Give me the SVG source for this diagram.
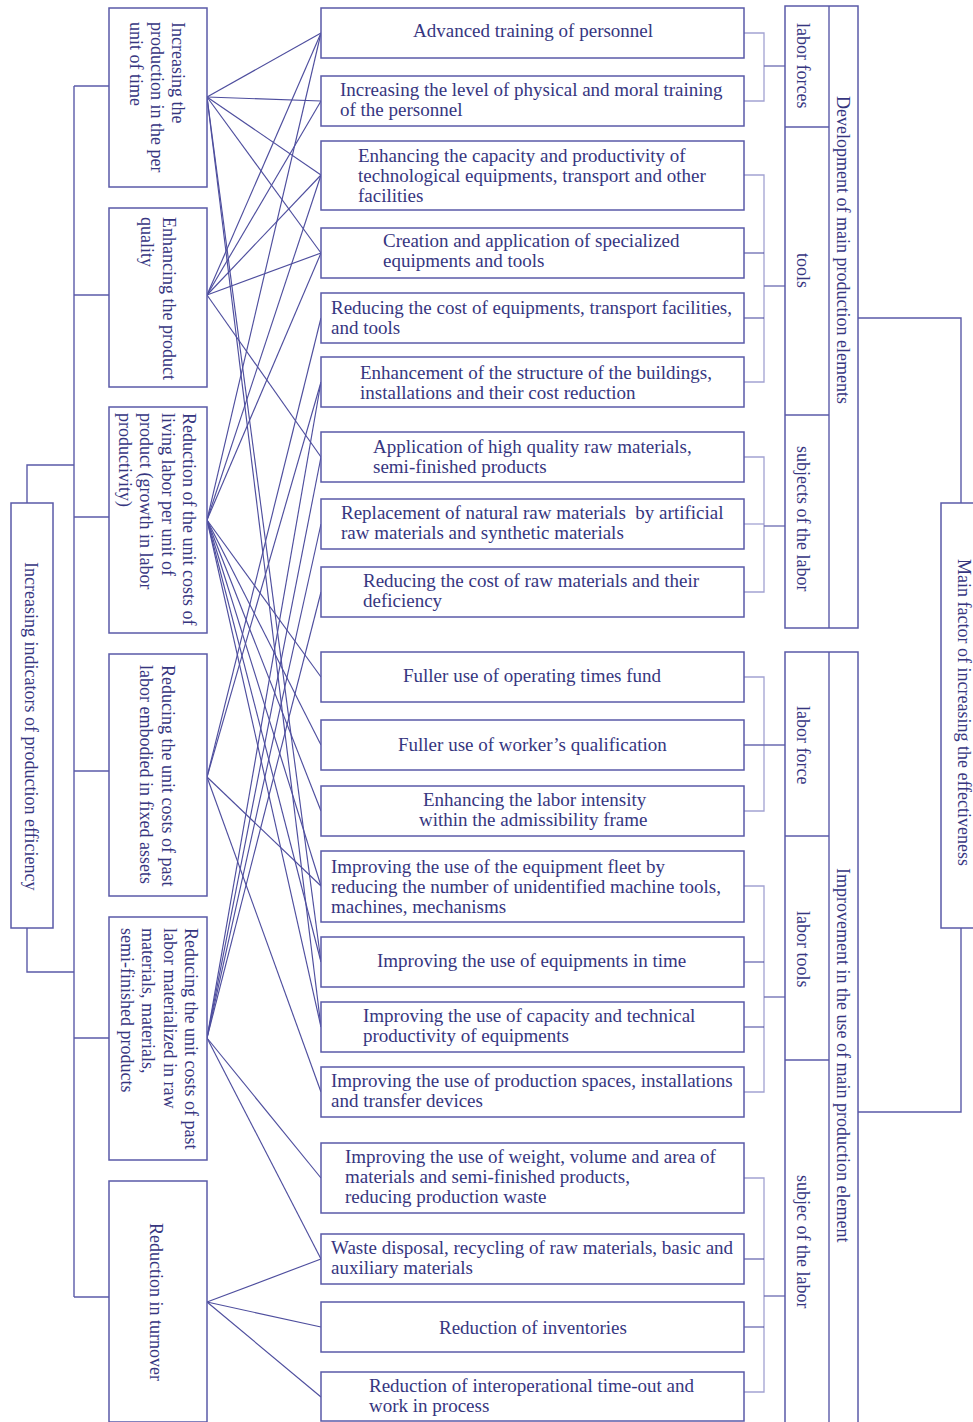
<svg xmlns="http://www.w3.org/2000/svg" width="973" height="1422" viewBox="0 0 973 1422">
<style>
  .bx{fill:#fff;stroke:#5a5aa8;stroke-width:1.5}
  .ln{fill:none;stroke:#5a5aa8;stroke-width:1.4}
  .lk{fill:none;stroke:#4e4e9e;stroke-width:1.15}
  .br{fill:none;stroke:#a2a2d2;stroke-width:1.3}
  .bd{fill:none;stroke:#6a6ab0;stroke-width:1.3}
  text{font-family:"Liberation Serif","Times New Roman",serif;fill:#36367f}
  .h{font-size:19px;white-space:pre}
  .v{font-size:18px}
</style>

<!-- left hierarchy spine -->
<g id="left-spine">
  <polyline class="ln" points="27,503 27,465 74,465"/>
  <polyline class="ln" points="27,928 27,972 74,972"/>
  <line class="ln" x1="74" y1="86" x2="74" y2="1297"/>
  <line class="ln" x1="74" y1="86" x2="109" y2="86"/>
  <line class="ln" x1="74" y1="295" x2="109" y2="295"/>
  <line class="ln" x1="74" y1="517" x2="109" y2="517"/>
  <line class="ln" x1="74" y1="771" x2="109" y2="771"/>
  <line class="ln" x1="74" y1="1038" x2="109" y2="1038"/>
  <line class="ln" x1="74" y1="1297" x2="109" y2="1297"/>
</g>

<!-- fan connectors between indicators and factors -->
<g id="connectors">
  <!-- production per unit of time -->
  <line class="lk" x1="207" y1="97" x2="321" y2="33"/>
  <line class="lk" x1="207" y1="97" x2="321" y2="101"/>
  <line class="lk" x1="207" y1="97" x2="321" y2="175"/>
  <line class="lk" x1="207" y1="97" x2="321" y2="253"/>
  <line class="lk" x1="207" y1="97" x2="321" y2="962"/>
  <line class="lk" x1="207" y1="97" x2="321" y2="1027"/>
  <!-- product quality -->
  <line class="lk" x1="207" y1="295" x2="321" y2="33"/>
  <line class="lk" x1="207" y1="295" x2="321" y2="101"/>
  <line class="lk" x1="207" y1="295" x2="321" y2="175"/>
  <line class="lk" x1="207" y1="295" x2="321" y2="253"/>
  <line class="lk" x1="207" y1="295" x2="321" y2="457"/>
  <!-- living labor -->
  <line class="lk" x1="207" y1="520" x2="321" y2="33"/>
  <line class="lk" x1="207" y1="520" x2="321" y2="175"/>
  <line class="lk" x1="207" y1="520" x2="321" y2="253"/>
  <line class="lk" x1="207" y1="520" x2="321" y2="677"/>
  <line class="lk" x1="207" y1="520" x2="321" y2="745"/>
  <line class="lk" x1="207" y1="520" x2="321" y2="811"/>
  <line class="lk" x1="207" y1="520" x2="321" y2="886"/>
  <line class="lk" x1="207" y1="520" x2="321" y2="962"/>
  <line class="lk" x1="207" y1="520" x2="321" y2="1027"/>
  <!-- fixed assets -->
  <line class="lk" x1="207" y1="777" x2="321" y2="318"/>
  <line class="lk" x1="207" y1="777" x2="321" y2="382"/>
  <line class="lk" x1="207" y1="777" x2="321" y2="886"/>
  <line class="lk" x1="207" y1="777" x2="321" y2="1092"/>
  <!-- raw materials -->
  <line class="lk" x1="207" y1="1038" x2="321" y2="382"/>
  <line class="lk" x1="207" y1="1038" x2="321" y2="457"/>
  <line class="lk" x1="207" y1="1038" x2="321" y2="524"/>
  <line class="lk" x1="207" y1="1038" x2="321" y2="592"/>
  <line class="lk" x1="207" y1="1038" x2="321" y2="1178"/>
  <line class="lk" x1="207" y1="1038" x2="321" y2="1259"/>
  <!-- turnover -->
  <line class="lk" x1="207" y1="1302" x2="321" y2="1259"/>
  <line class="lk" x1="207" y1="1302" x2="321" y2="1327"/>
  <line class="lk" x1="207" y1="1302" x2="321" y2="1397"/>
</g>

<!-- brackets on the right -->
<g id="right-brackets">
  <polyline class="br" points="744,33 764,33 764,101 744,101"/>
  <line class="bd" x1="764" y1="66" x2="785" y2="66"/>
  <polyline class="br" points="744,175 764,175 764,382 744,382"/>
  <line class="bd" x1="744" y1="253" x2="764" y2="253"/>
  <line class="bd" x1="744" y1="318" x2="764" y2="318"/>
  <line class="bd" x1="764" y1="286" x2="785" y2="286"/>
  <polyline class="br" points="744,457 764,457 764,592 744,592"/>
  <line class="br" x1="744" y1="524" x2="764" y2="524"/>
  <line class="bd" x1="764" y1="526" x2="785" y2="526"/>

  <polyline class="br" points="744,677 764,677 764,811 744,811"/>
  <line class="bd" x1="744" y1="745" x2="785" y2="745"/>
  <polyline class="br" points="744,886 764,886 764,1092 744,1092"/>
  <line class="bd" x1="744" y1="962" x2="764" y2="962"/>
  <line class="bd" x1="744" y1="1027" x2="764" y2="1027"/>
  <line class="bd" x1="764" y1="997" x2="785" y2="997"/>
  <polyline class="br" points="744,1178 764,1178 764,1392 744,1392"/>
  <line class="bd" x1="744" y1="1259" x2="764" y2="1259"/>
  <line class="bd" x1="744" y1="1327" x2="764" y2="1327"/>
  <line class="bd" x1="764" y1="1296" x2="785" y2="1296"/>

  <polyline class="ln" points="858,318 961,318 961,503"/>
  <polyline class="ln" points="961,928 961,1112 858,1112"/>
</g>

<!-- root indicator -->
<g id="root">
  <rect class="bx" x="11" y="503" width="42" height="425"/>
  <text class="v" transform="translate(25,562) rotate(90)">Increasing indicators of production efficiency</text>
</g>

<!-- indicator boxes -->
<g id="ind-time">
  <rect class="bx" x="109" y="8" width="98" height="179"/>
  <text class="v" transform="translate(172,22) rotate(90)"><tspan x="0" y="0">Increasing the</tspan><tspan x="0" y="21">production in the per</tspan><tspan x="0" y="42">unit of time</tspan></text>
</g>
<g id="ind-quality">
  <rect class="bx" x="109" y="208" width="98" height="179"/>
  <text class="v" transform="translate(163,217) rotate(90)"><tspan x="0" y="0">Enhancing the product</tspan><tspan x="0" y="22">quality</tspan></text>
</g>
<g id="ind-living">
  <rect class="bx" x="109" y="407" width="98" height="226"/>
  <text class="v" transform="translate(183,413) rotate(90)"><tspan x="0" y="0">Reduction of the unit costs of</tspan><tspan x="0" y="21.5">living labor per unit of</tspan><tspan x="0" y="43">product (growth in labor</tspan><tspan x="0" y="64.5">productivity)</tspan></text>
</g>
<g id="ind-fixed">
  <rect class="bx" x="109" y="654" width="98" height="242"/>
  <text class="v" transform="translate(162,665) rotate(90)"><tspan x="0" y="0">Reducing the unit costs of past</tspan><tspan x="0" y="22">labor embodied in fixed assets</tspan></text>
</g>
<g id="ind-raw">
  <rect class="bx" x="109" y="917" width="98" height="243"/>
  <text class="v" transform="translate(185,928) rotate(90)"><tspan x="0" y="0">Reducing the unit costs of past</tspan><tspan x="0" y="21.5">labor materialized in raw</tspan><tspan x="0" y="43">materials, materials,</tspan><tspan x="0" y="64.5">semi-finished products</tspan></text>
</g>
<g id="ind-turnover">
  <rect class="bx" x="109" y="1181" width="98" height="241"/>
  <text class="v" transform="translate(150,1223) rotate(90)">Reduction in turnover</text>
</g>

<!-- factor boxes -->
<g id="f01"><rect class="bx" x="321" y="8" width="423" height="50"/><text class="h" x="413" y="37">Advanced training of personnel</text></g>
<g id="f02"><rect class="bx" x="321" y="76" width="423" height="50"/><text class="h" x="340" y="96">Increasing the level of physical and moral training</text><text class="h" x="340" y="116">of the personnel</text></g>
<g id="f03"><rect class="bx" x="321" y="141" width="423" height="69"/><text class="h" x="358" y="162">Enhancing the capacity and productivity of</text><text class="h" x="358" y="182">technological equipments, transport and other</text><text class="h" x="358" y="202">facilities</text></g>
<g id="f04"><rect class="bx" x="321" y="228" width="423" height="50"/><text class="h" x="383" y="247">Creation and application of specialized</text><text class="h" x="383" y="267">equipments and tools</text></g>
<g id="f05"><rect class="bx" x="321" y="293" width="423" height="50"/><text class="h" x="331" y="314">Reducing the cost of equipments, transport facilities,</text><text class="h" x="331" y="334">and tools</text></g>
<g id="f06"><rect class="bx" x="321" y="357" width="423" height="50"/><text class="h" x="360" y="379">Enhancement of the structure of the buildings,</text><text class="h" x="360" y="399">installations and their cost reduction</text></g>
<g id="f07"><rect class="bx" x="321" y="432" width="423" height="50"/><text class="h" x="373" y="453">Application of high quality raw materials,</text><text class="h" x="373" y="473">semi-finished products</text></g>
<g id="f08"><rect class="bx" x="321" y="499" width="423" height="50"/><text class="h" x="341" y="519">Replacement of natural raw materials  by artificial</text><text class="h" x="341" y="539">raw materials and synthetic materials</text></g>
<g id="f09"><rect class="bx" x="321" y="567" width="423" height="50"/><text class="h" x="363" y="587">Reducing the cost of raw materials and their</text><text class="h" x="363" y="607">deficiency</text></g>
<g id="f10"><rect class="bx" x="321" y="652" width="423" height="50"/><text class="h" x="403" y="682">Fuller use of operating times fund</text></g>
<g id="f11"><rect class="bx" x="321" y="720" width="423" height="50"/><text class="h" x="398" y="751">Fuller use of worker’s qualification</text></g>
<g id="f12"><rect class="bx" x="321" y="786" width="423" height="50"/><text class="h" x="423" y="806">Enhancing the labor intensity</text><text class="h" x="419" y="826">within the admissibility frame</text></g>
<g id="f13"><rect class="bx" x="321" y="851" width="423" height="71"/><text class="h" x="331" y="873">Improving the use of the equipment fleet by</text><text class="h" x="331" y="893">reducing the number of unidentified machine tools,</text><text class="h" x="331" y="913">machines, mechanisms</text></g>
<g id="f14"><rect class="bx" x="321" y="937" width="423" height="50"/><text class="h" x="377" y="967">Improving the use of equipments in time</text></g>
<g id="f15"><rect class="bx" x="321" y="1002" width="423" height="50"/><text class="h" x="363" y="1022">Improving the use of capacity and technical</text><text class="h" x="363" y="1042">productivity of equipments</text></g>
<g id="f16"><rect class="bx" x="321" y="1067" width="423" height="50"/><text class="h" x="331" y="1087">Improving the use of production spaces, installations</text><text class="h" x="331" y="1107">and transfer devices</text></g>
<g id="f17"><rect class="bx" x="321" y="1143" width="423" height="70"/><text class="h" x="345" y="1163">Improving the use of weight, volume and area of</text><text class="h" x="345" y="1183">materials and semi-finished products,</text><text class="h" x="345" y="1203">reducing production waste</text></g>
<g id="f18"><rect class="bx" x="321" y="1234" width="423" height="50"/><text class="h" x="331" y="1254">Waste disposal, recycling of raw materials, basic and</text><text class="h" x="331" y="1274">auxiliary materials</text></g>
<g id="f19"><rect class="bx" x="321" y="1302" width="423" height="50"/><text class="h" x="439" y="1334">Reduction of inventories</text></g>
<g id="f20"><rect class="bx" x="321" y="1372" width="423" height="49"/><text class="h" x="369" y="1392">Reduction of interoperational time-out and</text><text class="h" x="369" y="1412">work in process</text></g>

<!-- development of production elements -->
<g id="dev-group">
  <rect class="bx" x="785" y="6" width="73" height="622"/>
  <line class="ln" x1="829" y1="6" x2="829" y2="628"/>
  <line class="ln" x1="785" y1="127" x2="829" y2="127"/>
  <line class="ln" x1="785" y1="415" x2="829" y2="415"/>
  <text class="v" transform="translate(837,96) rotate(90)">Development of main production elements</text>
  <text class="v" transform="translate(797,23) rotate(90)">labor forces</text>
  <text class="v" transform="translate(797,253) rotate(90)">tools</text>
  <text class="v" transform="translate(797,446) rotate(90)">subjects of the labor</text>
</g>

<!-- use of production elements -->
<g id="use-group">
  <rect class="bx" x="785" y="652" width="73" height="790"/>
  <line class="ln" x1="829" y1="652" x2="829" y2="1422"/>
  <line class="ln" x1="785" y1="836" x2="829" y2="836"/>
  <line class="ln" x1="785" y1="1060" x2="829" y2="1060"/>
  <text class="v" transform="translate(837,868) rotate(90)">Improvement in the use of main production element</text>
  <text class="v" transform="translate(797,706) rotate(90)">labor force</text>
  <text class="v" transform="translate(797,911) rotate(90)">labor tools</text>
  <text class="v" transform="translate(797,1175) rotate(90)">subjec of the labor</text>
</g>

<!-- main factor -->
<g id="main-factor">
  <rect class="bx" x="941" y="503" width="40" height="425"/>
  <text class="v" transform="translate(958,559) rotate(90)">Main factor of increasing the effectiveness</text>
</g>
</svg>
